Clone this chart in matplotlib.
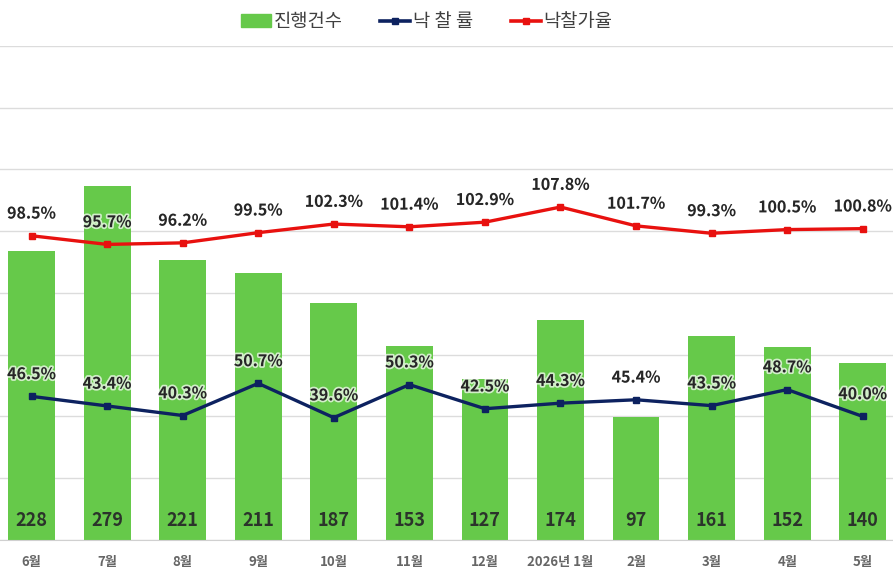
import matplotlib
matplotlib.use("Agg")
import matplotlib.pyplot as plt
import matplotlib.patheffects as pe
from matplotlib.lines import Line2D
from matplotlib.patches import Patch
import numpy as np

plt.rcParams['font.family'] = ['Noto Sans CJK KR', 'DejaVu Sans']

# data
months = ['6월', '7월', '8월', '9월', '10월', '11월', '12월', '2026년 1월', '2월', '3월', '4월', '5월']
counts = [228, 279, 221, 211, 187, 153, 127, 174, 97, 161, 152, 140]
sale_rate = [46.5, 43.4, 40.3, 50.7, 39.6, 50.3, 42.5, 44.3, 45.4, 43.5, 48.7, 40.0]
price_rate = [98.5, 95.7, 96.2, 99.5, 102.3, 101.4, 102.9, 107.8, 101.7, 99.3, 100.5, 100.8]

green = '#66c94a'
navy = '#0d2260'
red = '#e8110f'

fig = plt.figure(figsize=(8.93, 5.8), dpi=100)
ax1 = fig.add_axes([0, 0.069, 1, 0.852])
ax2 = ax1.twinx()

x = np.arange(len(months))

# bars
ax1.bar(x, counts, width=0.62, color=green, zorder=2)
ax1.set_ylim(0, 390)
ax1.set_xlim(-0.417, 11.4)
ax1.set_yticks(np.linspace(0, 390, 9))
ax1.yaxis.grid(True, color='#dcdcdc', linewidth=1)
ax1.set_axisbelow(True)
ax1.tick_params(axis='y', left=False, labelleft=False)
ax1.set_xticks(x)
ax1.set_xticklabels(months, fontsize=9.5, color='#666666', fontweight='bold')
ax1.tick_params(axis='x', length=0, pad=11)
for s in ['top', 'left', 'right']:
    ax1.spines[s].set_visible(False)
ax1.spines['bottom'].set_color('#d0d0d0')

for xi, c in zip(x, counts):
    ax1.annotate(str(c), (xi, 0), xytext=(0, 14), textcoords='offset points',
                 ha='center', va='center', fontsize=13, fontweight='bold', color='#2b332b', zorder=3)

# lines
ax2.set_ylim(0, 160)
ax2.plot(x, price_rate, color=red, lw=2.4, marker='s', ms=5, zorder=4)
ax2.plot(x, sale_rate, color=navy, lw=2.4, marker='s', ms=5, zorder=4)
ax2.tick_params(axis='y', right=False, labelright=False)
for s in ['top', 'left', 'right', 'bottom']:
    ax2.spines[s].set_visible(False)

glow = [pe.withStroke(linewidth=2.5, foreground='white', alpha=0.7)]
for xi, v in zip(x, price_rate):
    ax2.annotate(f'{v:.1f}%', (xi, v), xytext=(0, 16), textcoords='offset points',
                 ha='center', va='center', fontsize=11.5, fontweight='bold', color='#262626',
                 path_effects=glow)
for xi, v in zip(x, sale_rate):
    ax2.annotate(f'{v:.1f}%', (xi, v), xytext=(0, 16), textcoords='offset points',
                 ha='center', va='center', fontsize=11.5, fontweight='bold', color='#262626',
                 path_effects=glow)

handles = [
    Patch(color=green, label='진행건수'),
    Line2D([0], [0], color=navy, lw=2.6, marker='s', ms=4, label='낙 찰 률'),
    Line2D([0], [0], color=red, lw=2.6, marker='s', ms=4, label='낙찰가율'),
]
fig.legend(handles=handles, loc='upper center', bbox_to_anchor=(0.478, 1.01), ncol=3,
           frameon=False, fontsize=13.5, handlelength=1.6, handletextpad=0.15,
           columnspacing=2.0, labelcolor='#404040')

fig.savefig('out.png', dpi=100)
